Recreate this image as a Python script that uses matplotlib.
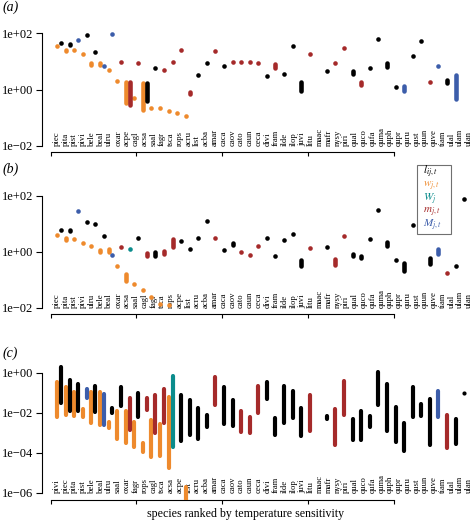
import matplotlib
matplotlib.use("Agg")
import matplotlib.pyplot as plt
from matplotlib.patches import Rectangle
from matplotlib.ticker import NullLocator, FixedLocator

plt.rcParams['font.family'] = ['Liberation Serif', 'DejaVu Serif']
plt.rcParams['mathtext.fontset'] = 'stix'

# ---------------- data ----------------
tail_species = ["caca", "caov", "cato", "caun", "ceca", "divi", "fram", "ilde", "ilop", "juvi",
                "litu", "maac", "mafr", "nysy", "piri", "qual", "quco", "qufa", "quma", "quph",
                "qupr", "quru", "qust", "quun", "quve", "tiam", "ulal", "ulam", "ulan"]
a_species = ["piec", "pita", "pist", "pivi", "bele", "beal", "ulru", "oxar", "acpe", "cagl",
             "acsa", "saal", "fagr", "tsca", "rops", "acru", "list", "acba", "amar"] + tail_species
b_species = ["piec", "pita", "pist", "pivi", "ulru", "bele", "beal", "oxar", "acsa", "saal",
             "cagl", "fagr", "tsca", "rops", "acpe", "list", "acru", "acba", "amar"] + tail_species
c_species = ["pivi", "piec", "pita", "pist", "bele", "beal", "ulru", "saal", "oxar", "fagr",
             "rops", "cagl", "tsca", "acsa", "acpe", "list", "acru", "acba", "amar"] + tail_species

# (a) w_{j,t} (orange)
a_w_lo = [35, 24, 25, 19, 7.5, 7.5, 4.9, 2.0, 0.32, 0.50, 0.19, 0.22, 0.22, 0.17, 0.14, 0.11]
a_w_hi = [35, 26, 25, 19, 8.7, 8.7, 4.9, 2.0, 1.86, 0.50, 1.66, 0.22, 0.22, 0.17, 0.14, 0.11]
# (a) other series: kind, low, high
a_kind = ['l', 'l', 'M', 'l', 'l', 'M', 'M', 'm', 'm', 'm', 'l', 'l', 'm', 'm', 'm', 'm', 'l', 'l', 'm', 'l',
          'm', 'm', 'm', 'm', 'l', 'm', 'l', 'l', 'l', 'm', None, 'l', 'm', 'm', 'l', 'm', 'l', 'l', 'l', 'l',
          'M', 'l', 'l', 'm', 'M', 'l', 'M', None]
a_lo = [46, 38, 60, 85, 21, 6.8, 93, 9.5, 0.28, 8.9, 0.40, 5.6, 4.9, 9.5, 26, 0.69, 3.2, 9.1, 24, 6.8,
        9.5, 9.5, 9.3, 8.9, 3.0, 6.0, 3.5, 35, 0.87, 18, None, 4.4, 9.1, 31, 3.5, 1.45, 6.0, 62, 6.3, 1.23,
        0.87, 16, 52, 1.86, 6.8, 1.7, 0.47, None]
a_hi = [46, 43, 60, 85, 21, 6.8, 93, 9.5, 1.9, 8.9, 1.66, 5.6, 4.9, 9.5, 26, 0.83, 3.2, 9.1, 24, 6.8,
        9.5, 9.5, 9.3, 8.9, 3.0, 8.3, 3.5, 35, 1.8, 18, None, 4.4, 9.1, 31, 4.5, 1.8, 6.0, 62, 8.5, 1.23,
        1.38, 16, 52, 1.86, 6.8, 2.1, 3.3, None]

# (b)
b_w_lo = [4.1, 2.6, 2.9, 2.1, 1.6, 0.95, 0.95, 0.30, 0.089, 0.072, 0.044, 0.025, 0.014, 0.012]
b_w_hi = [4.1, 3.1, 2.9, 2.1, 1.6, 1.15, 1.2, 0.30, 0.16, 0.072, 0.044, 0.025, 0.014, 0.012]
b_kind = ['l', 'l', 'M', 'l', 'l', 'l', 'M', 'm', 'W', 'l', 'm', 'l', 'm', 'm', 'l', 'l', 'l', 'l', 'm', 'l',
          'l', 'm', 'm', 'm', 'l', 'l', 'l', 'l', 'l', 'm', None, 'l', 'm', 'm', 'l', 'l', 'l', 'l', 'l', 'l',
          'l', 'l', None, 'l', 'M', 'm', 'l', 'l']
b_lo = [6.2, 5.6, 27.5, 11.5, 9.8, 3.5, 0.78, 1.48, 1.26, 3.2, 0.71, 0.68, 0.83, 1.5, 2.5, 1.26, 3.2, 12.9, 3.2, 1.17,
        1.74, 0.95, 0.79, 1.6, 3.0, 0.72, 2.6, 4.3, 0.32, 1.35, None, 1.48, 0.34, 3.7, 0.71, 0.60, 2.8, 30, 1.66, 0.51,
        0.20, 9.1, None, 0.35, 0.81, 0.18, 0.30, 76]
b_hi = [6.2, 6.2, 27.5, 11.5, 9.8, 3.5, 0.78, 1.48, 1.26, 3.2, 0.87, 0.95, 1.10, 2.8, 2.5, 1.26, 3.2, 12.9, 3.2, 1.17,
        2.0, 0.95, 0.79, 1.6, 3.0, 0.72, 2.6, 4.3, 0.52, 1.35, None, 1.48, 0.56, 3.7, 0.83, 0.72, 2.8, 30, 2.14, 0.51,
        0.40, 9.1, None, 0.60, 1.2, 0.18, 0.30, 76]

# (c)
c_w_lo = [0.0059, 0.0074, 0.0066, 0.0059, 0.0030, 0.0025, 0.0017, 0.00048, 0.0003, 0.00019,
          0.000107, 6.0e-5, 6.6e-5, 1.7e-5, None, 2.5e-7]
c_w_hi = [0.34, 0.19, 0.107, 0.0158, 0.107, 0.107, 0.0034, 0.0117, 0.0117, 0.0034,
          0.0003, 0.0042, 0.0026, 0.060, None, 1.9e-6]
c_kind = ['l', 'l', 'l', 'M', 'l', 'M', 'l', 'l', 'm', 'l', 'm', 'm', 'm', 'W', 'l', 'l', 'l', 'l', 'm', 'l',
          'l', 'm', 'm', 'm', 'l', 'l', 'l', 'l', 'l', 'm', None, 'l', 'm', 'm', 'l', 'l', 'l', 'l', 'l', 'l',
          'l', 'l', 'l', 'l', 'M', 'm', 'l', 'l']
c_lo = [0.030, 0.0117, 0.0117, 0.054, 0.0107, 0.0025, 0.0095, 0.021, 0.0014, 0.0059,
        0.014, 0.00095, 0.0030, 0.000186, 0.0004, 0.00079, 0.00048, 0.0019, 0.025, 0.0027,
        0.0022, 0.00107, 0.00095, 0.0095, 0.050, 0.00074, 0.0030, 0.0054, 0.00066, 0.00126,
        None, 0.0046, 0.00023, 0.0074, 0.00045, 0.00042, 0.0019, 0.025, 0.00126, 0.00033,
        0.000126, 0.0059, 0.0066, 0.00025, 0.0059, 0.00017, 0.00027, 0.093]
c_hi = [1.9, 0.45, 0.28, 0.148, 0.21, 0.089, 0.017, 0.19, 0.056, 0.095,
        0.054, 0.079, 0.158, 0.68, 0.074, 0.042, 0.0178, 0.0079, 0.60, 0.19,
        0.042, 0.0117, 0.006, 0.21, 0.34, 0.0054, 0.21, 0.117, 0.017, 0.074,
        None, 0.0072, 0.0158, 0.38, 0.0047, 0.0117, 0.0066, 1.07, 0.28, 0.019,
        0.0032, 0.19, 0.028, 0.050, 0.117, 0.0079, 0.0047, 0.093]

legend_labels = [r'$l_{ij,t}$', r'$w_{j,t}$', r'$W_j$', r'$m_{j,t}$', r'$M_{j,t}$']
legend_kinds = ['l', 'w', 'W', 'm', 'M']

COL = {'l': '#000000', 'w': '#EE8A2D', 'W': '#0B8C8C', 'm': '#A52A2A', 'M': '#3C5DAA'}

# ---------------- figure ----------------
W, H = 477, 521
fig = plt.figure(figsize=(W / 100, H / 100), dpi=100)


def fx(px):
    return px / W


def fy(py):
    return 1 - py / H


def mark(ax, x, lo, hi, color, size):
    if lo is None:
        return
    if lo == hi:
        ax.plot([x], [lo], 'o', ms=size, color=color, mec='none', zorder=3)
    else:
        ax.plot([x, x], [lo, hi], '-', lw=size, color=color,
                solid_capstyle='round', zorder=3)


def make_panel(top_px, bot_px, emin, emax, ext_lo, ext_hi, species,
               w_lo, w_hi, kind, lo, hi, size, tag, tag_y):
    left = 41.7
    ax = fig.add_axes([fx(left), fy(bot_px), fx(W - left), (bot_px - top_px) / H])
    ax.set_yscale('log')
    ax.set_xlim(-1.05, 49.7)
    ax.set_ylim(10.0 ** (emin - ext_lo), 10.0 ** (emax + ext_hi))
    ticks = [10.0 ** e for e in range(emin, emax + 1, 2)]
    ax.yaxis.set_major_locator(FixedLocator(ticks))
    ax.yaxis.set_minor_locator(NullLocator())
    labs = []
    for e in range(emin, emax + 1, 2):
        labs.append("1e+%02d" % e if e >= 0 else "1e\u2212%02d" % (-e))
    ax.set_yticklabels(labs, fontsize=9)
    ax.set_xticks([0, 10, 20, 30, 40])
    ax.set_xticklabels([])
    ax.xaxis.set_minor_locator(NullLocator())
    for s in ['top', 'right']:
        ax.spines[s].set_visible(False)
    ax.spines['left'].set_bounds(10.0 ** emin, 10.0 ** emax)
    ax.spines['bottom'].set_bounds(0, 40)
    for s in ['left', 'bottom']:
        ax.spines[s].set_linewidth(0.8)
    ax.tick_params(axis='y', direction='out', length=4.2, width=0.8, pad=2)
    ax.tick_params(axis='x', direction='out', length=3, width=0.8)
    ax.patch.set_alpha(0)

    for i, name in enumerate(species):
        ax.text(0.7 + i * 1.023, 10.0 ** emin, name, rotation=90, ha='center',
                va='bottom', fontsize=6.2, zorder=2)
    for i in range(len(w_lo)):
        mark(ax, i + 1 - 0.25, w_lo[i], w_hi[i], COL['w'], size)
    for i in range(len(kind)):
        if kind[i] is not None:
            mark(ax, i + 1 + 0.2, lo[i], hi[i], COL[kind[i]], size)
    fig.text(fx(3), fy(tag_y), tag, style='italic', fontsize=10, ha='left', va='center')
    return ax


ax_a = make_panel(27, 152, -2, 2, 0.225, 0.225, a_species,
                  a_w_lo, a_w_hi, a_kind, a_lo, a_hi, 3.3, '(a)', 7.5)
ax_b = make_panel(189.4, 314, -2, 2, 0.225, 0.225, b_species,
                  b_w_lo, b_w_hi, b_kind, b_lo, b_hi, 3.3, '(b)', 169.3)
ax_c = make_panel(365.4, 500, -6, 0, 0.365, 0.365, c_species,
                  c_w_lo, c_w_hi, c_kind, c_lo, c_hi, 3.0, '(c)', 353.3)

# legend box in panel (b)
fig.add_artist(Rectangle((fx(417), fy(234)), fx(34), 69 / H, transform=fig.transFigure,
                         facecolor='white', edgecolor='#707070', lw=0.8, zorder=5))
legend_y = [172, 186, 199, 212, 225]
for k, (lab, kd) in enumerate(zip(legend_labels, legend_kinds)):
    fig.text(fx(423), fy(legend_y[k]), lab, color=COL[kd], fontsize=8.0,
             ha='left', va='center', zorder=6)

fig.text(fx(245.5), fy(514), "species ranked by temperature sensitivity",
         fontsize=8.6, ha='center', va='center')

fig.savefig("out.png", dpi=100, facecolor='white')
